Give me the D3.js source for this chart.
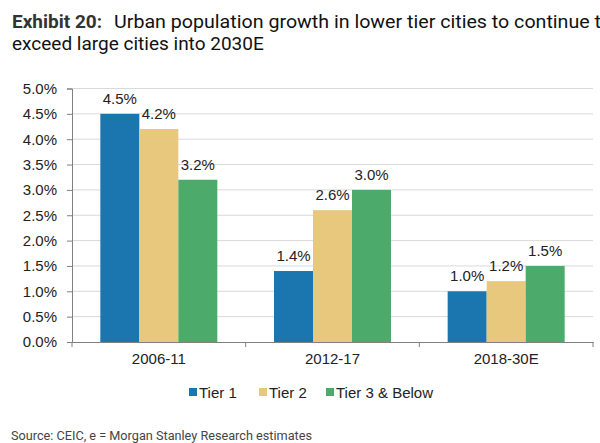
<!DOCTYPE html>
<html><head><meta charset="utf-8">
<script src="https://cdn.jsdelivr.net/npm/d3@7"></script>
<style>body{margin:0;background:#fff}svg{display:block}</style>
</head><body><svg id="c" width="600" height="443"></svg>
<script>
const categories = ["2006-11", "2012-17", "2018-30E"];
const seriesNames = ["Tier 1", "Tier 2", "Tier 3 & Below"];
const tier1 = [4.5, 1.4, 1.0];
const tier2 = [4.2, 2.6, 1.2];
const tier3 = [3.2, 3.0, 1.5];
const yTicks = [0, 0.5, 1, 1.5, 2, 2.5, 3, 3.5, 4, 4.5, 5];
const colors = ["#1b75ae", "#e7c87c", "#4caa6b"];

(function () {
const seriesValues = [tier1, tier2, tier3];
const svg = d3.select("#c");
const pl = 72, pr = 593, pt = 88.5, pb = 342;
const fnt = "Liberation Sans, Arial";

const x = d3.scaleBand().domain(categories).range([pl, pr]).paddingInner(0).paddingOuter(0);
const y = d3.scaleLinear().domain([0, 5]).range([pb, pt]);
const bw = 39;
const xs = d3.scaleBand().domain(seriesNames).range([0, bw * 3]);

// title
svg.append("text").attr("x", 12).attr("y", 28).attr("font-family", "Roboto").attr("font-size", 19)
  .attr("font-weight", "bold").attr("fill", "#333").text("Exhibit 20:");
svg.append("text").attr("x", 114).attr("y", 28).attr("font-family", "Roboto").attr("font-size", 19).attr("fill", "#111")
  .attr("textLength", 498).attr("lengthAdjust", "spacingAndGlyphs")
  .text("Urban population growth in lower tier cities to continue to");
svg.append("text").attr("x", 12).attr("y", 50).attr("font-family", "Roboto").attr("font-size", 19).attr("fill", "#111")
  .text("exceed large cities into 2030E");

// grid
svg.append("g").selectAll("line").data(yTicks.filter(d => d > 0)).join("line")
  .attr("x1", pl).attr("x2", pr).attr("y1", d => y(d)).attr("y2", d => y(d))
  .attr("stroke", "#d9d9d9").attr("stroke-width", 1);

// y axis
const ya = svg.append("g").attr("transform", `translate(${pl},0)`)
  .call(d3.axisLeft(y).tickValues(yTicks).tickFormat(d => d.toFixed(1) + "%").tickSize(5).tickPadding(10));
ya.select(".domain").attr("stroke", "#808080");
ya.selectAll(".tick line").attr("stroke", "#808080");
ya.selectAll("text").attr("font-family", fnt).attr("font-size", 15).attr("fill", "#222");

// bars
const groups = svg.append("g").selectAll("g").data(categories).join("g")
  .attr("transform", d => `translate(${x(d) + x.bandwidth() / 2 - bw * 1.5},0)`);
groups.each(function(cat, ci) {
  const g = d3.select(this);
  seriesNames.forEach((s, si) => {
    const v = seriesValues[si][ci];
    g.append("rect").attr("x", xs(s)).attr("width", xs.bandwidth())
      .attr("y", y(v)).attr("height", y(0) - y(v)).attr("fill", colors[si]);
    g.append("text").attr("x", xs(s) + xs.bandwidth() / 2).attr("y", y(v) - 10)
      .attr("text-anchor", "middle").attr("font-family", fnt).attr("font-size", 15).attr("fill", "#222")
      .text(v.toFixed(1) + "%");
  });
});

// x axis
const xa = svg.append("g").attr("transform", `translate(0,${pb})`)
  .call(d3.axisBottom(x).tickSize(0).tickPadding(11));
xa.select(".domain").attr("stroke", "#808080");
xa.selectAll("text").attr("font-family", fnt).attr("font-size", 15).attr("fill", "#222");
svg.append("g").selectAll("line").data([x.range()[0], ...categories.map(c => x(c) + x.bandwidth())]).join("line")
  .attr("x1", d => d).attr("x2", d => d).attr("y1", pb).attr("y2", pb + 5).attr("stroke", "#808080");

// legend
const legendX = [189, 259, 326];
const lg = svg.append("g").selectAll("g").data(seriesNames).join("g")
  .attr("transform", (d, i) => `translate(${legendX[i]},398)`);
lg.append("rect").attr("x", 0).attr("y", -10).attr("width", 8).attr("height", 8).attr("fill", (d, i) => colors[i]);
lg.append("text").attr("x", 10).attr("y", 0).attr("font-family", fnt).attr("font-size", 15).attr("fill", "#222").text(d => d);

// source
svg.append("text").attr("x", 11).attr("y", 440).attr("font-family", "Roboto").attr("font-size", 12.5).attr("fill", "#444")
  .attr("textLength", 301).attr("lengthAdjust", "spacingAndGlyphs")
  .text("Source: CEIC, e = Morgan Stanley Research estimates");
})();
</script></body></html>
